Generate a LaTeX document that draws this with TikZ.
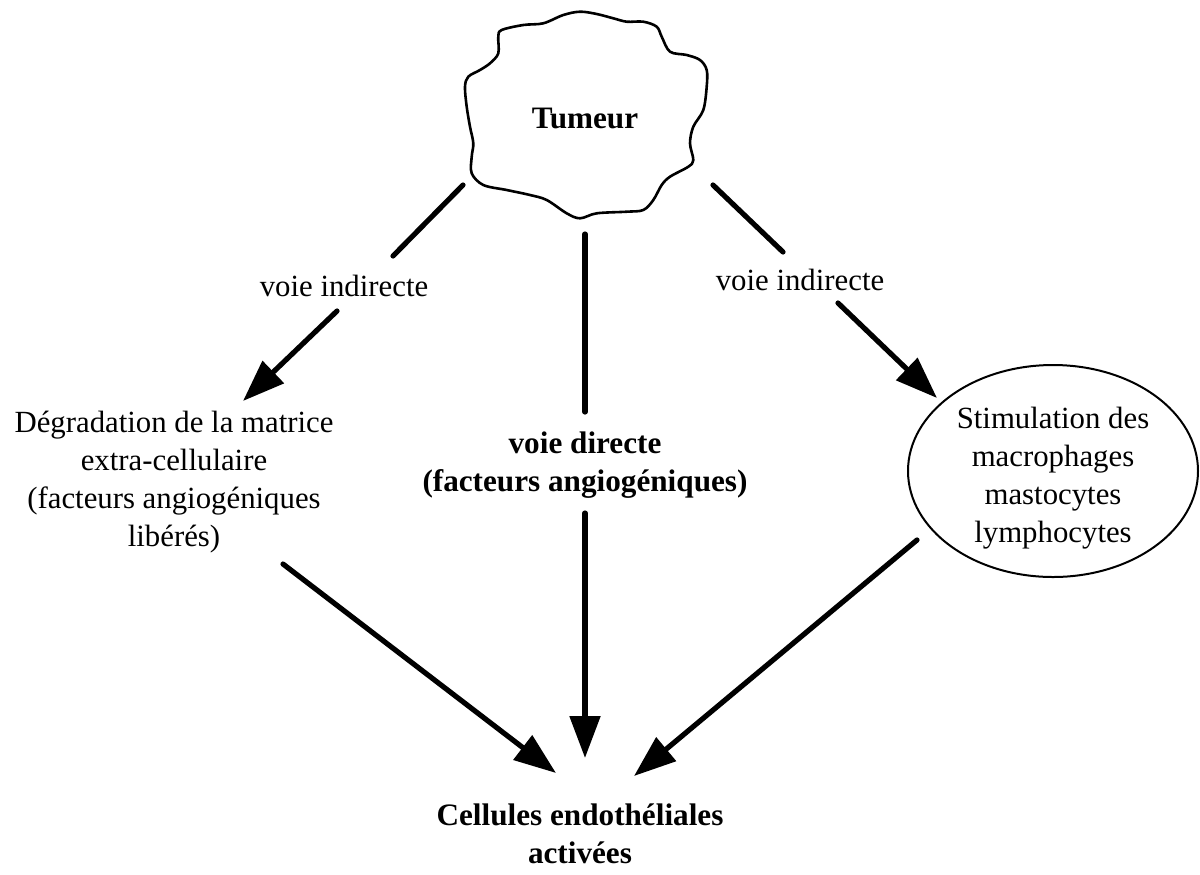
\documentclass[tikz,border=0pt]{standalone}
\usepackage{fontspec}
\setmainfont{Liberation Serif}
\usetikzlibrary{arrows.meta,shapes.geometric}
\begin{document}
\begin{tikzpicture}[x=0.5pt,y=-0.5pt,
  txt/.style={font=\fontsize{15.4}{19}\selectfont, align=center, inner sep=0pt},
  btxt/.style={font=\fontsize{15.6}{19}\selectfont\bfseries, align=center, inner sep=0pt},
  conn/.style={line width=2.6pt, line cap=round},
  arr/.style={conn, -{Triangle[length=21pt,width=15pt]}},
]
\useasboundingbox (0,0) rectangle (1200,874);
% tumour outline
\draw[line width=1.3pt, line join=round] plot[smooth cycle, tension=0.55] coordinates {
(580,11.7) (596.7,14) (613.3,18.3) (626.7,21.7) (643.3,21.7) (656.7,26.7)
(661.7,36.7) (670,51.7) (686.7,55) (700,60) (706.7,70) (706.7,86.7)
(703.3,110) (693.3,126.7) (690,143.3) (693.3,160) (688.3,166.7) (670,176.7)
(661.7,185) (653.3,200) (643.3,210) (626.7,211.7) (596.7,213.3) (580,218.3)
(566.7,213.3) (546.7,200) (530,195) (506.7,190) (483.3,185) (471.7,173.3)
(471.7,156.7) (473.3,143.3) (470,126.7) (466.7,106.7) (465,86.7) (468.3,76.7)
(480,70) (490,63.3) (498.3,53.3) (498.3,36.7) (501.7,30) (523.3,25)
(543.3,23.3) (563.3,15)};
\node[btxt] (tum) at (585,118) {Tumeur};

% labels
\node[txt] (vil) at (344,286) {voie indirecte};
\node[txt] (vir) at (800,280) {voie indirecte};
\node[txt] (deg) at (174,482) {Dégradation de la matrice\\extra-cellulaire\\(facteurs angiogéniques\\libérés)};
\node[btxt] (vd) at (585,465) {voie directe\\(facteurs angiogéniques)};
\node[draw, line width=1pt, ellipse, minimum width=145pt, minimum height=106pt, inner sep=0pt] (ell) at (1053,471) {};
\node[txt] (stim) at (1053,478) {Stimulation des\\macrophages\\mastocytes\\lymphocytes};
\node[btxt] (cel) at (580,834) {Cellules endothéliales\\activées};

% connector end points
\coordinate (l1a) at (463,185);
\coordinate (l1b) at (393,256);
\coordinate (l2a) at (337,311);
\coordinate (l2b) at (243,401);
\coordinate (c1a) at (585,234);
\coordinate (c1b) at (585,412);
\coordinate (c2a) at (585,513);
\coordinate (c2b) at (585,758);
\coordinate (r1a) at (713,185);
\coordinate (r1b) at (783,252);
\coordinate (r2a) at (838,303);
\coordinate (r2b) at (937,398);
\coordinate (dla) at (283,564);
\coordinate (dlb) at (556,773);
\coordinate (dra) at (917,540);
\coordinate (drb) at (634,776);

\draw[conn] (l1a) -- (l1b);
\draw[arr] (l2a) -- (l2b);
\draw[conn] (c1a) -- (c1b);
\draw[arr] (c2a) -- (c2b);
\draw[conn] (r1a) -- (r1b);
\draw[arr] (r2a) -- (r2b);
\draw[arr] (dla) -- (dlb);
\draw[arr] (dra) -- (drb);
\end{tikzpicture}
\end{document}
